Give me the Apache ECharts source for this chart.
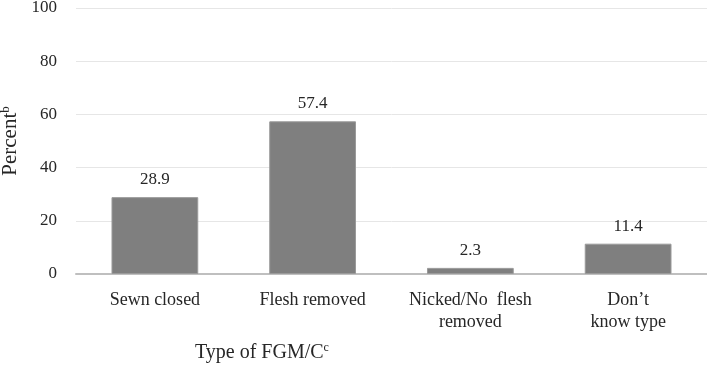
<!DOCTYPE html>
<html>
<head>
<meta charset="utf-8">
<script src="https://cdn.jsdelivr.net/npm/echarts@6/dist/echarts.min.js"></script>
<style>
  html, body { margin:0; padding:0; background:#fff; }
  #chart { width:707px; height:367px; }
</style>
</head>
<body>
<div id="chart"></div>
<script>
const categories = ['Sewn closed', 'Flesh removed', 'Nicked/No  flesh\nremoved', 'Don\u2019t\nknow type']
const percentValues = [28.9, 57.4, 2.3, 11.4]
const yTicks = { min: 0, max: 100, interval: 20 }

const serif = '"Liberation Serif", "Times New Roman", serif'
const textColor = '#262626'

const chart = echarts.init(document.getElementById('chart'))
chart.setOption({
  animation: false,
  textStyle: { fontFamily: serif },
  grid: { left: 76, right: 0, top: 8, bottom: 93, outerBoundsMode: 'none' },
  xAxis: {
    type: 'category',
    data: categories,
    axisLine: { lineStyle: { color: '#bfbfbf', width: 2 } },
    axisTick: { show: false },
    axisLabel: { color: textColor, fontFamily: serif, fontSize: 18, lineHeight: 22, margin: 15, interval: 0 }
  },
  yAxis: {
    type: 'value',
    min: yTicks.min,
    max: yTicks.max,
    interval: yTicks.interval,
    name: '{m|Percent}{s|b}',
    nameLocation: 'middle',
    nameGap: 52,
    nameTextStyle: {
      rich: {
        m: { fontFamily: serif, fontSize: 21, color: textColor },
        s: { fontFamily: serif, fontSize: 13, color: textColor, padding: [0, 0, 9, 0] }
      }
    },
    axisLine: { show: false },
    axisTick: { show: false },
    axisLabel: { color: textColor, fontFamily: serif, fontSize: 17, margin: 19 },
    splitLine: { lineStyle: { color: '#e6e6e6', width: 1 } }
  },
  graphic: [{
    type: 'text',
    left: 195,
    top: 342,
    style: {
      text: '{m|Type of FGM/C}{s|c}',
      rich: {
        m: { fontFamily: serif, fontSize: 20, fill: textColor },
        s: { fontFamily: serif, fontSize: 12, fill: textColor, padding: [0, 0, 9, 0] }
      }
    }
  }],
  series: [{
    type: 'bar',
    data: percentValues,
    barWidth: '55%',
    itemStyle: { color: '#7f7f7f', borderColor: '#9a9a9a', borderWidth: 1 },
    label: { show: true, position: 'top', distance: 9, color: textColor, fontFamily: serif, fontSize: 17, formatter: p => p.value.toFixed(1) }
  }]
})
</script>
</body>
</html>
